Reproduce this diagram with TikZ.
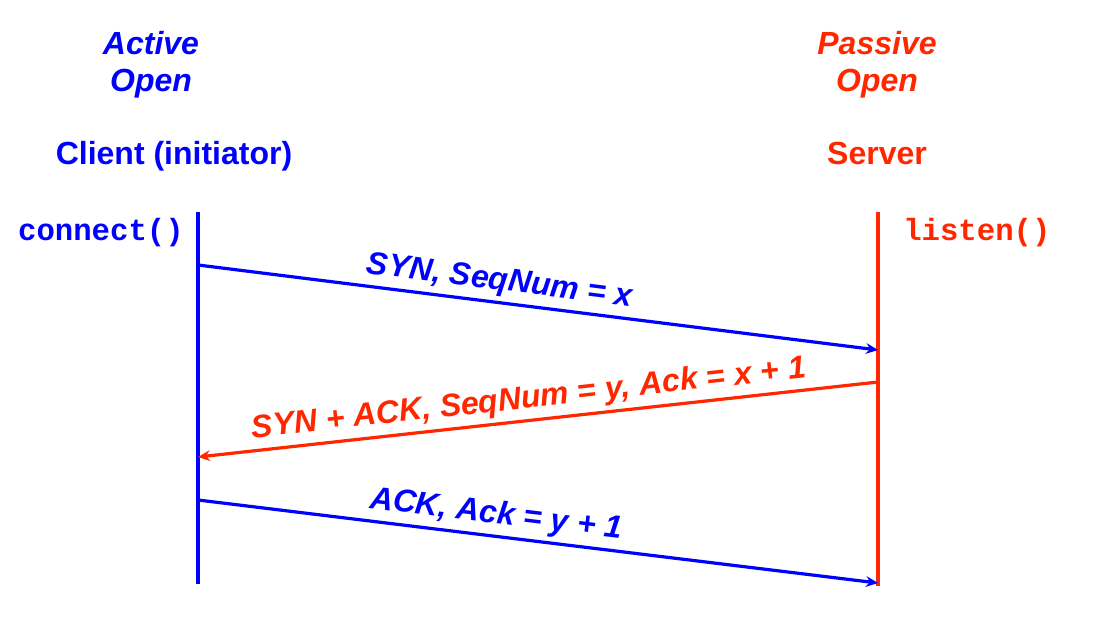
\documentclass[tikz,border=0pt]{standalone}
\usepackage{fontspec}
\setmainfont{Liberation Sans}
\setmonofont{Liberation Mono}
\usetikzlibrary{positioning,arrows.meta}
\definecolor{clientblue}{RGB}{0,0,255}
\definecolor{serverred}{RGB}{255,38,0}

\begin{document}
\begin{tikzpicture}[
    x=0.75pt, y=-0.75pt,
    title/.style={font=\fontsize{24}{28}\selectfont\bfseries\itshape, inner sep=0pt, anchor=base},
    host/.style={font=\fontsize{24}{28}\selectfont\bfseries, inner sep=0pt, anchor=base},
    call/.style={font=\fontsize{23}{28}\selectfont\ttfamily\bfseries, inner sep=0pt},
    lifeline/.style={line width=3pt},
    msg/.style={-{Stealth[length=9pt,width=8pt]}, line width=2.4pt},
    msglabel/.style={font=\fontsize{24}{28}\selectfont\bfseries\itshape, sloped, above}
  ]
  \useasboundingbox (0,0) rectangle (1110,626);

  % Client side
  \node[title, text=clientblue] (cactive) at (151,54) {Active};
  \node[title, text=clientblue] (copen) at (151,91) {Open};
  \node[host, text=clientblue] (client) at (174,164) {Client (initiator)};
  \node[call, text=clientblue, anchor=base east] (connect) at (184,240) {connect()};

  % Server side
  \node[title, text=serverred] (spassive) at (877,54) {Passive};
  \node[title, text=serverred] (sopen) at (877,91) {Open};
  \node[host, text=serverred] (server) at (877,164) {Server};
  \node[call, text=serverred, anchor=base west] (listen) at (903,240) {listen()};

  % Lifelines
  \coordinate (ctop) at (198,212);
  \coordinate (cbot) at (198,584);
  \coordinate (stop) at (878,212);
  \coordinate (sbot) at (878,586);
  \draw[lifeline, clientblue] (ctop) -- (cbot);
  \draw[lifeline, serverred] (stop) -- (sbot);

  % Handshake messages
  \coordinate (syn0) at (198,265);
  \coordinate (syn1) at (878,350);
  \coordinate (sa0) at (878,382);
  \coordinate (sa1) at (198,457);
  \coordinate (ack0) at (198,500);
  \coordinate (ack1) at (878,583);

  \draw[msg, clientblue] (syn0) -- node[msglabel, pos=0.44] {SYN, SeqNum = x} (syn1);
  \draw[msg, serverred] (sa0) -- node[msglabel, pos=0.51] {SYN + ACK, SeqNum = y, Ack = x + 1} (sa1);
  \draw[msg, clientblue] (ack0) -- node[msglabel, pos=0.435] {ACK, Ack = y + 1} (ack1);
\end{tikzpicture}
\end{document}
